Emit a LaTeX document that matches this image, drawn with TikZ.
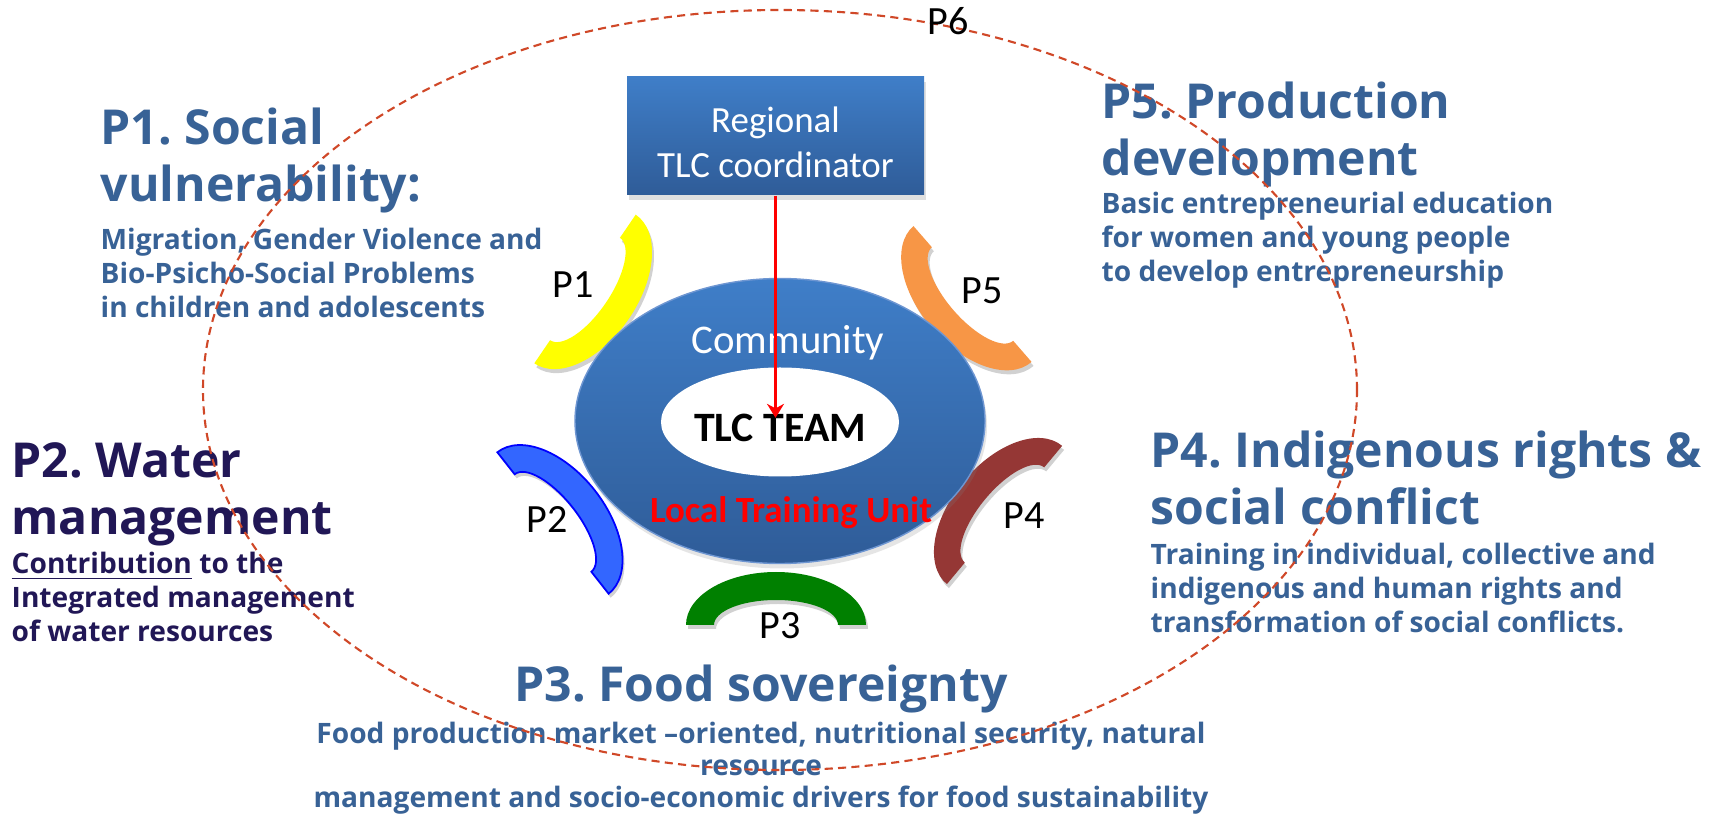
\documentclass[tikz,border=0pt]{standalone}
\usepackage{fontspec}
\setmainfont{Open Sans}
\newfontfamily\calibri{Carlito}
\usepackage{tikz}
\usetikzlibrary{arrows.meta,positioning,shapes.geometric,shadows}
\definecolor{tlcsteel}{RGB}{56,98,150}
\definecolor{tlcnavy}{RGB}{33,23,86}
\definecolor{tlcblue}{RGB}{63,126,200}
\definecolor{tlcdeep}{RGB}{47,92,152}
\definecolor{tlcrim}{RGB}{110,150,210}
\definecolor{tlcdash}{RGB}{208,72,40}
\definecolor{tlcyellow}{RGB}{255,255,0}
\definecolor{tlcazure}{RGB}{51,102,255}
\definecolor{tlcgreen}{RGB}{0,128,0}
\definecolor{tlcbrown}{RGB}{149,55,53}
\definecolor{tlcorange}{RGB}{247,150,70}
\frenchspacing

\newcommand{\headfont}{\fontsize{13.7}{16.4}\selectfont\bfseries}
\newcommand{\notefont}{\fontsize{8.0}{9.8}\selectfont\bfseries}
% half ring of one pillar, bump on the local +y side
\newcommand{\bandpath}{(0.90,0) arc[start angle=0, end angle=180, x radius=0.90, y radius=0.53]
  -- (-0.62,0) arc[start angle=180, end angle=0, x radius=0.62, y radius=0.25] -- cycle}
\newcommand{\pband}[4]{%
  \fill[black, opacity=0.18, shift={(#1+0.02,#2-0.04)}, rotate=#3] \bandpath;
  \fill[#4, shift={(#1,#2)}, rotate=#3] \bandpath;}

\tikzset{
  coordbox/.style={top color=tlcblue, bottom color=tlcdeep, minimum width=2.97cm,
    minimum height=1.18cm, align=center, text=white, inner sep=2pt,
    font=\calibri\fontsize{10.5}{12.8}\selectfont,
    drop shadow={opacity=0.25, shadow xshift=0.02cm, shadow yshift=-0.05cm}},
  community/.style={ellipse, top color=tlcblue, bottom color=tlcdeep, draw=tlcrim, thin,
    minimum width=4.10cm, minimum height=2.85cm,
    drop shadow={opacity=0.2, shadow xshift=0.02cm, shadow yshift=-0.05cm}},
  core/.style={ellipse, fill=white, minimum width=2.38cm, minimum height=1.09cm},
  plabel/.style={font=\calibri\fontsize{11.4}{13}\selectfont, inner sep=1pt},
  pillarhead/.style={font=\headfont, align=left, anchor=base west, inner sep=0pt},
  pillarnote/.style={font=\notefont, align=left, anchor=base west, inner sep=0pt},
  feed/.style={-{Stealth[length=1.4mm, width=1.7mm]}, draw=red, line width=1.1pt,
    shorten >=-0.04cm},
  reach/.style={draw=tlcdash, line width=0.6pt, dash pattern=on 2.3pt off 1.5pt}
}

\begin{document}
\begin{tikzpicture}
  \path[use as bounding box, fill=white] (0,0) rectangle (17.15,8.17);

  % the five pillars
  \pband{5.85}{5.28}{-124.3}{tlcyellow}
  \pband{5.53}{2.94}{-51.8}{tlcazure, draw=blue, line width=0.5pt}
  \pband{7.76}{1.92}{0}{tlcgreen}
  \pband{10.045}{3.02}{50.2}{tlcbrown}
  \pband{9.725}{5.23}{131}{tlcorange}

  \node[plabel] (p1) at (5.73,5.32) {P1};
  \node[plabel] (p2) at (5.47,2.97) {P2};
  \node[plabel] (p3) at (7.80,1.91) {P3};
  \node[plabel] (p4) at (10.24,3.01) {P4};
  \node[plabel] (p5) at (9.82,5.26) {P5};

  % community with the team inside
  \node[community] (community) at (7.80,3.96) {};
  \node[core] (core) at (7.80,3.95) {};
  \node[font=\calibri\fontsize{11.6}{13}\selectfont, text=white, anchor=base]
    (commtext) at (7.88,4.63) {Community};
  \node[font=\calibri\bfseries\fontsize{11.9}{14}\selectfont, anchor=base, inner sep=0pt]
    (team) at (7.80,3.75) {TLC TEAM};
  \node[font=\calibri\bfseries\fontsize{10.5}{12}\selectfont, text=red, anchor=base]
    (ltu) at (7.91,2.94) {Local Training Unit};

  \node[coordbox] (coord) at (7.755,6.81) {\rule{0pt}{11pt}Regional\\TLC coordinator};
  \draw[feed] (coord.south) -- (coord.south |- team.north);

  % pillar descriptions (anchored on their last line)
  \node[pillarhead, text=tlcsteel] (h1) at (1.00,6.15) {P1. Social\\vulnerability:};
  \node[pillarnote, text=tlcsteel] (n1) at (1.00,4.99)
    {Migration, Gender Violence and\\Bio-Psicho-Social Problems\\in children and adolescents};

  \node[pillarhead, text=tlcnavy] (h2) at (0.11,2.82) {P2. Water\\management};
  \node[pillarnote, text=tlcnavy] (n2) at (0.11,1.75)
    {\underline{Contribution} to the\\Integrated management\\of water resources};

  \node[pillarhead, text=tlcsteel, align=center, anchor=base] (h3) at (7.61,1.15)
    {P3. Food sovereignty};
  \node[pillarnote, text=tlcsteel, align=center, anchor=north,
    font=\fontsize{8.0}{9.1}\selectfont\bfseries, below=0.07cm of h3] (n3)
    {Food production market –oriented, nutritional security, natural\\resource\\
     management and socio-economic drivers for food sustainability};

  \node[pillarhead, text=tlcsteel] (h4) at (11.50,2.92) {P4. Indigenous rights \&\\social conflict};
  \node[pillarnote, text=tlcsteel] (n4) at (11.50,1.84)
    {Training in individual, collective and\\indigenous and human rights and\\transformation of social conflicts.};

  \node[pillarhead, text=tlcsteel] (h5) at (11.01,6.41) {P5. Production\\development};
  \node[pillarnote, text=tlcsteel] (n5) at (11.01,5.35)
    {Basic entrepreneurial education\\for women and young people\\to develop entrepreneurship};

  % outer ring
  \draw[reach] (7.80,4.27) ellipse [x radius=5.77, y radius=3.80];
  \node[plabel] (p6) at (9.48,7.96) {P6};
\end{tikzpicture}
\end{document}
